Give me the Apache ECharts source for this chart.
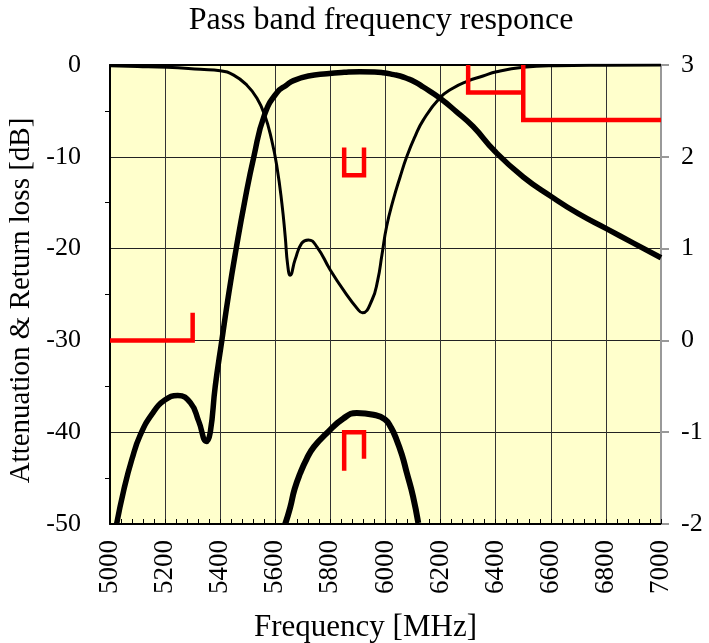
<!DOCTYPE html>
<html>
<head>
<meta charset="utf-8">
<script src="https://cdn.jsdelivr.net/npm/echarts@6/dist/echarts.min.js"></script>
<style>html,body{margin:0;padding:0;background:#fff}#c{width:709px;height:643px}</style>
</head>
<body>
<div id="c"></div>
<script>
// Frequency axis ticks (MHz)
const xTicks = [5000, 5200, 5400, 5600, 5800, 6000, 6200, 6400, 6600, 6800, 7000];

// Attenuation (thick curve, left axis, dB)
const attFreq = [5024, 5050, 5080, 5110, 5153, 5199, 5246, 5292, 5322, 5350, 5364, 5382, 5406, 5431, 5458, 5488, 5522, 5561, 5606, 5640, 5666, 5720, 5787, 5850, 5907, 5960, 5992, 6030, 6053, 6077, 6107, 6137, 6197, 6258, 6318, 6397, 6500, 6600, 6700, 6800, 6900, 7000];
const attVal  = [-50, -46.3, -42.9, -40.3, -38.0, -36.5, -36.0, -36.8, -38.8, -41.0, -40, -35, -30, -24.9, -20, -15, -10, -5.4, -3.0, -2.2, -1.7, -1.2, -0.95, -0.8, -0.73, -0.75, -0.84, -1.05, -1.2, -1.45, -1.85, -2.4, -3.6, -5.1, -6.7, -9.4, -12.2, -14.3, -16.2, -17.8, -19.4, -21.0];

// Return loss (thin curve, left axis, dB)
const retFreq = [5000, 5100, 5207, 5328, 5400, 5449, 5497, 5533, 5561, 5587, 5606, 5624, 5636, 5645, 5654, 5672, 5696, 5720, 5751, 5799, 5847, 5902, 5916, 5951, 5972, 5987, 6004, 6028, 6053, 6077, 6107, 6137, 6197, 6246, 6294, 6354, 6403, 6500, 6620, 6800, 7000];
const retVal  = [-0.08, -0.15, -0.25, -0.47, -0.62, -1.1, -2.2, -3.6, -5.4, -8.2, -11.1, -15.1, -18.7, -21.8, -22.9, -21.2, -19.4, -19.05, -19.8, -22.3, -24.5, -26.7, -27.0, -25.6, -23.4, -20.7, -17.6, -14.7, -12.2, -10, -7.8, -6.0, -3.6, -2.5, -1.8, -1.2, -0.73, -0.25, -0.07, -0.02, 0];

// Pass band insertion loss zoom (thick arch, right axis, dB)
const archFreq = [5636, 5654, 5670, 5690, 5714, 5740, 5787, 5847, 5896, 5956, 5998, 6020, 6040, 6060, 6077, 6100, 6119];
const archVal  = [-2.0, -1.82, -1.62, -1.45, -1.29, -1.16, -1.01, -0.85, -0.79, -0.81, -0.86, -0.95, -1.08, -1.25, -1.44, -1.7, -1.99];

// Specification masks (red, left axis)
const maskLowFreq = [5000, 5300, 5300];
const maskLowVal  = [-30, -30, -27];
const maskHiAFreq = [6300, 6300, 6500];
const maskHiAVal  = [0, -3, -3];
const maskHiBFreq = [6500, 6500, 7000];
const maskHiBVal  = [0, -6, -6];
const maskRLFreq  = [5850, 5850, 5922, 5922];
const maskRLVal   = [-9, -12, -12, -9];
const maskILFreq  = [5850, 5850, 5922, 5922];
const maskILVal   = [-44.2, -40, -40, -42.9];

const pairs = (xs, ys) => xs.map((x, i) => [x, ys[i]]);

const FONT = 'Liberation Serif, Times New Roman, serif';
const chart = echarts.init(document.getElementById('c'), null, {renderer: 'canvas'});

const redLine = (name, xs, ys) => ({
  name, type: 'line', xAxisIndex: 0, yAxisIndex: 0, data: pairs(xs, ys),
  showSymbol: false, symbol: 'none', smooth: false, z: 4,
  lineStyle: {color: '#ff0000', width: 4.5, cap: 'butt', join: 'miter'},
  silent: true, animation: false
});

const curve = (name, yIdx, xs, ys, w) => ({
  name, type: 'line', xAxisIndex: 0, yAxisIndex: yIdx, data: pairs(xs, ys),
  showSymbol: false, symbol: 'none', smooth: 0.5, z: 3,
  lineStyle: {color: '#000', width: w, cap: 'butt', join: 'round'}
});

chart.setOption({
  animation: false,
  backgroundColor: '#ffffff',
  title: {
    text: 'Pass band frequency responce',
    left: 376, top: 0, textAlign: 'center',
    textStyle: {fontFamily: FONT, fontSize: 32, fontWeight: 'normal', color: '#000'}
  },
  grid: {left: 110, right: 48, top: 65, bottom: 119, show: true, backgroundColor: '#ffffcc',
         borderWidth: 0, containLabel: false, outerBoundsMode: 'none'},
  xAxis: [{
    type: 'value', min: 5000, max: 7000, interval: 200,
    name: 'Frequency [MHz]', nameLocation: 'middle', nameGap: 88,
    nameTextStyle: {fontFamily: FONT, fontSize: 31, color: '#000', padding: [0, 40, 0, 0]},
    axisLine: {show: true, onZero: false, lineStyle: {color: '#000', width: 2}},
    axisTick: {show: true, inside: true, length: 5, lineStyle: {color: '#000', width: 1}},
    minorTick: {show: true, splitNumber: 5, length: 5, lineStyle: {color: '#000', width: 1}},
    splitLine: {show: true, lineStyle: {color: '#333', width: 1}},
    axisLabel: {rotate: 90, margin: 16, fontFamily: FONT, fontSize: 27, color: '#000',
      customValues: xTicks, formatter: v => String(v)}
  }, {
    type: 'value', min: 5000, max: 7000, position: 'top',
    axisLine: {show: true, onZero: false, lineStyle: {color: '#000', width: 2}},
    axisTick: {show: false}, axisLabel: {show: false}, splitLine: {show: false}
  }],
  yAxis: [{
    type: 'value', min: -50, max: 0, interval: 10, position: 'left',
    name: 'Attenuation & Return loss [dB]', nameLocation: 'middle', nameGap: 69,
    nameTextStyle: {fontFamily: FONT, fontSize: 29, color: '#000', padding: [0, 12, 0, 0]},
    axisLine: {show: true, onZero: false, lineStyle: {color: '#000', width: 2}},
    axisTick: {show: false},
    minorTick: {show: true, splitNumber: 2, length: 5, lineStyle: {color: '#000', width: 1}},
    splitLine: {show: true, lineStyle: {color: '#222', width: 1}},
    axisLabel: {margin: 29, fontFamily: FONT, fontSize: 26, color: '#000'}
  }, {
    type: 'value', min: -2, max: 3, interval: 1, position: 'right',
    axisLine: {show: true, onZero: false, lineStyle: {color: '#999', width: 2}},
    axisTick: {show: true, inside: false, length: 8, lineStyle: {color: '#999', width: 2}},
    splitLine: {show: false},
    axisLabel: {margin: 20, fontFamily: FONT, fontSize: 26, color: '#000'}
  }],
  series: [
    curve('Attenuation', 0, attFreq, attVal, 5.5),
    curve('Return loss', 0, retFreq, retVal, 3),
    curve('Insertion loss', 1, archFreq, archVal, 6),
    redLine('Mask low', maskLowFreq, maskLowVal),
    redLine('Mask high A', maskHiAFreq, maskHiAVal),
    redLine('Mask high B', maskHiBFreq, maskHiBVal),
    redLine('Mask RL', maskRLFreq, maskRLVal),
    redLine('Mask IL', maskILFreq, maskILVal)
  ]
});
</script>
</body>
</html>
